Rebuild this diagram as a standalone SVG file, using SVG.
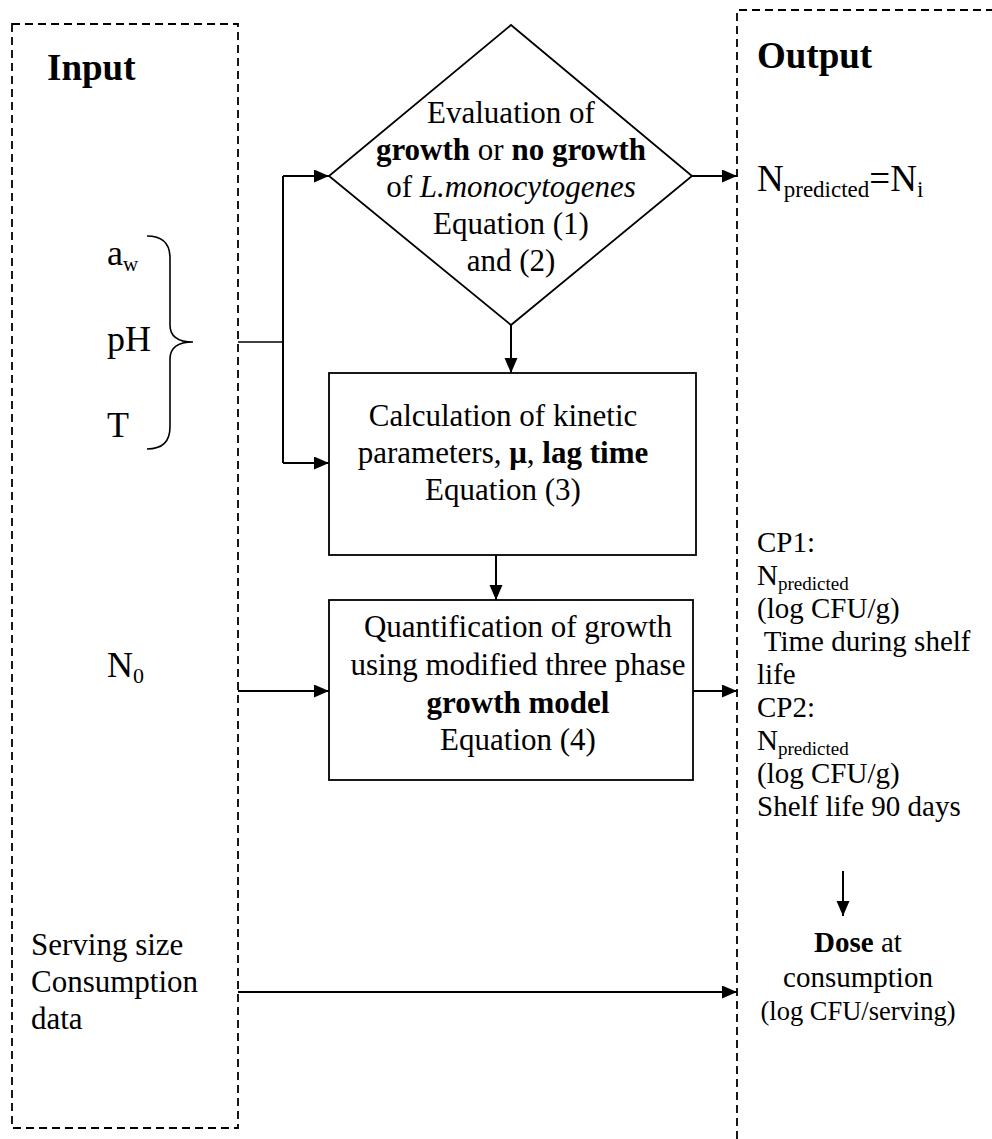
<svg xmlns="http://www.w3.org/2000/svg" width="992" height="1139" viewBox="0 0 992 1139">
<style>
text{font-family:"Liberation Serif","Times New Roman",serif;fill:#000}
.hd{font-size:37px;font-weight:bold}
.lbl{font-size:36px}
.bx{font-size:31px}
.rc{font-size:29px}
.b{font-weight:bold}
.dash{fill:none;stroke:#000;stroke-width:1.8;stroke-dasharray:8 5}
.shape{fill:#fff;stroke:#000;stroke-width:1.8}
.con{fill:none;stroke:#000;stroke-width:2}
.con2{fill:none;stroke:#000;stroke-width:1.6}
</style>
<defs>
<marker id="ah" markerUnits="userSpaceOnUse" markerWidth="16" markerHeight="14" refX="15" refY="6.5" orient="auto">
<path d="M0,0 L15,6.5 L0,13 z" fill="#000"/>
</marker>
</defs>
<rect width="992" height="1139" fill="#fff"/>

<g id="input-panel">
<rect class="dash" x="12" y="24" width="226" height="1104"/>
<text class="hd" x="47" y="80">Input</text>
</g>
<g id="output-panel">
<path class="dash" d="M737,1139 V10 H995"/>
<text class="hd" x="757" y="68">Output</text>
</g>

<g id="env-inputs">
<text class="lbl" x="107" y="265">a<tspan font-size="21" dy="6">w</tspan></text>
<text class="lbl" x="107" y="351">pH</text>
<text class="lbl" x="107" y="437">T</text>
<path class="con2" d="M147,236 C163,236 170,244 170,258 V325 C170,336 178,342 193,342 C178,342 170,348 170,359 V427 C170,441 163,449 147,449"/>
</g>

<g id="n0-input">
<text class="lbl" x="107" y="677">N<tspan font-size="22" dy="6">0</tspan></text>
</g>

<g id="serving-input">
<text class="bx" x="31" y="955">Serving size</text>
<text class="bx" x="31" y="992">Consumption</text>
<text class="bx" x="31" y="1029">data</text>
</g>

<g id="decision">
<polygon class="shape" points="511,25 692,176 511,325 329,176"/>
<text class="bx" text-anchor="middle" x="511" y="123">Evaluation of</text>
<text class="bx" text-anchor="middle" x="511" y="160"><tspan class="b">growth</tspan> or <tspan class="b">no growth</tspan></text>
<text class="bx" text-anchor="middle" x="511" y="197">of <tspan font-style="italic">L.monocytogenes</tspan></text>
<text class="bx" text-anchor="middle" x="511" y="234">Equation (1)</text>
<text class="bx" text-anchor="middle" x="511" y="271">and (2)</text>
</g>

<g id="kinetics">
<rect class="shape" x="329" y="373" width="367" height="182"/>
<text class="bx" text-anchor="middle" x="503" y="426">Calculation of kinetic</text>
<text class="bx" text-anchor="middle" x="503" y="463">parameters, <tspan class="b">μ</tspan>, <tspan class="b">lag time</tspan></text>
<text class="bx" text-anchor="middle" x="503" y="500">Equation (3)</text>
</g>

<g id="growth-model">
<rect class="shape" x="329" y="600" width="364" height="180"/>
<text class="bx" text-anchor="middle" x="518" y="637">Quantification of growth</text>
<text class="bx" text-anchor="middle" x="518" y="675">using modified three phase</text>
<text class="bx b" text-anchor="middle" x="518" y="713">growth model</text>
<text class="bx" text-anchor="middle" x="518" y="750">Equation (4)</text>
</g>

<g id="no-growth-output">
<text font-size="37" x="757" y="191">N<tspan font-size="23" dy="6">predicted</tspan><tspan dy="-6">=N</tspan><tspan font-size="23" dy="6">i</tspan></text>
</g>

<g id="cp-output">
<text class="rc" x="757" y="552">CP1:</text>
<text class="rc" x="757" y="585">N<tspan font-size="19" dy="5">predicted</tspan></text>
<text class="rc" x="757" y="618">(log CFU/g)</text>
<text class="rc" x="757" y="651" xml:space="preserve"> Time during shelf</text>
<text class="rc" x="757" y="684">life</text>
<text class="rc" x="757" y="717">CP2:</text>
<text class="rc" x="757" y="750">N<tspan font-size="19" dy="5">predicted</tspan></text>
<text class="rc" x="757" y="783">(log CFU/g)</text>
<text class="rc" x="757" y="816">Shelf life 90 days</text>
</g>

<g id="dose-output">
<text class="rc" text-anchor="middle" x="858" y="952"><tspan class="b">Dose</tspan> at</text>
<text class="rc" text-anchor="middle" x="858" y="987">consumption</text>
<text font-size="26.5" text-anchor="middle" x="858" y="1020">(log CFU/serving)</text>
</g>

<g id="connectors">
<path class="con2" d="M238,342 H283"/>
<path class="con" d="M283,176 V463"/>
<path class="con" d="M283,176 H329" marker-end="url(#ah)"/>
<path class="con" d="M283,463 H329" marker-end="url(#ah)"/>
<path class="con" d="M692,176 H737" marker-end="url(#ah)"/>
<path class="con" d="M511,325 V373" marker-end="url(#ah)"/>
<path class="con" d="M496,555 V600" marker-end="url(#ah)"/>
<path class="con" d="M238,691 H329" marker-end="url(#ah)"/>
<path class="con" d="M693,691 H737" marker-end="url(#ah)"/>
<path class="con" d="M843,871 V916" marker-end="url(#ah)"/>
<path class="con" d="M238,992 H737" marker-end="url(#ah)"/>
</g>
</svg>
